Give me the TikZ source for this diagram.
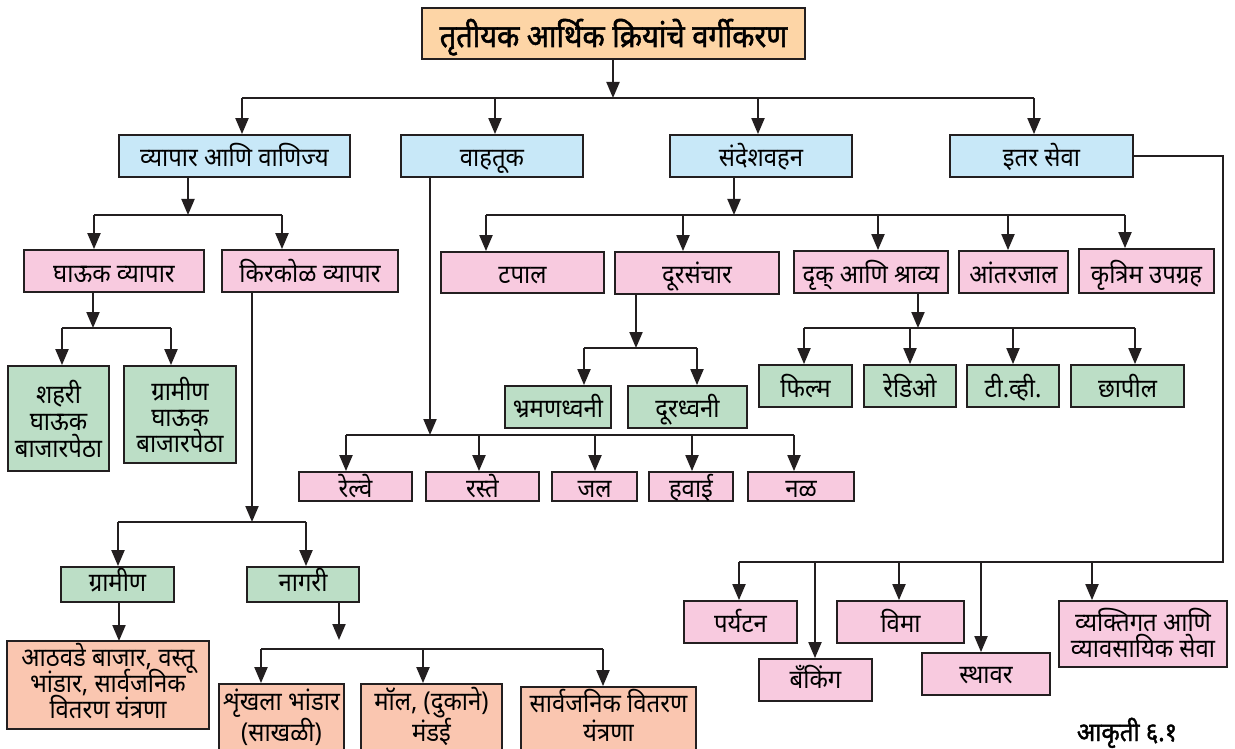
\documentclass[tikz,border=0pt]{standalone}
\usepackage{fontspec}
\setmainfont{Noto Sans}[Script=Devanagari,FakeStretch=0.92]
\newfontfamily\headfont{Noto Sans}[Script=Devanagari,FakeStretch=0.92,FakeBold=1.6]
\usetikzlibrary{arrows.meta,fit}
\definecolor{cblue}{HTML}{C8E8F8}
\definecolor{cpink}{HTML}{F8CADF}
\definecolor{cgreen}{HTML}{BCDEC6}
\definecolor{csalmon}{HTML}{FAC6B0}
\definecolor{cpeach}{HTML}{FDD5A6}
\definecolor{cline}{HTML}{231F20}
\tikzset{
  bx/.style={draw=cline, line width=1.8pt, inner sep=0pt,
    font=\fontsize{26}{28}\selectfont},
  bblue/.style={bx, fill=cblue},
  bpink/.style={bx, fill=cpink},
  bgreen/.style={bx, fill=cgreen},
  bsalmon/.style={bx, fill=csalmon},
  bpeach/.style={bx, fill=cpeach},
  ln/.style={draw=cline, line width=2pt},
  arr/.style={ln, -{Triangle[length=16pt,width=13pt]}},
}
% box given by its corners; its text lines are placed by their baselines
\newcommand\mybox[7]{\pgfmathsetmacro\cy{(#3+#5)/2}%
  \node[#6, fit={(#2,#3) (#4,#5)}] (#1) {#7};}
\newcommand\tx[2]{\pgfmathsetmacro\tmpoff{\cy-#1}%
  \raisebox{\tmpoff pt}[0pt][0pt]{\makebox[0pt]{#2}}}
\begin{document}
\begin{tikzpicture}[x=1pt,y=-1pt]
\useasboundingbox[fill=white] (0,0) rectangle (1235,749);
% title
\mybox{title}{422}{8}{805}{59}{bpeach}{\headfont\fontsize{31.5}{33}\selectfont\tx{47}{तृतीयक आर्थिक क्रियांचे वर्गीकरण}}
% level 1
\mybox{trade}{119}{135}{350}{177}{bblue}{\tx{167}{व्यापार आणि वाणिज्य}}
\mybox{transp}{401}{135}{583}{177}{bblue}{\tx{167}{वाहतूक}}
\mybox{comm}{670}{135}{852}{177}{bblue}{\tx{167}{संदेशवहन}}
\mybox{other}{950}{135}{1133}{177}{bblue}{\tx{167}{इतर सेवा}}
% trade subtree
\mybox{whole}{24}{250}{204}{292}{bpink}{\tx{282}{घाऊक व्यापार}}
\mybox{retail}{222}{250}{398}{292}{bpink}{\tx{282}{किरकोळ व्यापार}}
\mybox{urbanw}{8}{366}{109}{471}{bgreen}{\tx{403}{शहरी}\tx{430}{घाऊक}\tx{457}{बाजारपेठा}}
\mybox{ruralw}{124}{366}{236}{463}{bgreen}{\tx{400}{ग्रामीण}\tx{426}{घाऊक}\tx{452}{बाजारपेठा}}
\mybox{rural}{61}{567}{174}{602}{bgreen}{\tx{591}{ग्रामीण}}
\mybox{urban}{247}{567}{359}{602}{bgreen}{\tx{591}{नागरी}}
\mybox{weekly}{7}{641}{209}{729}{bsalmon}{\tx{666}{आठवडे बाजार, वस्तू}\tx{692}{भांडार, सार्वजनिक}\tx{718}{वितरण यंत्रणा}}
\mybox{chain}{219}{684}{344}{770}{bsalmon}{\tx{710}{शृंखला भांडार}\tx{741}{(साखळी)}}
\mybox{mall}{361}{684}{502}{770}{bsalmon}{\tx{710}{मॉल, (दुकाने)}\tx{741}{मंडई}}
\mybox{pds}{521}{687}{696}{770}{bsalmon}{\tx{712}{सार्वजनिक वितरण}\tx{741}{यंत्रणा}}
% transport
\mybox{rail}{299}{472}{412}{501}{bpink}{\tx{497}{रेल्वे}}
\mybox{road}{426}{472}{539}{501}{bpink}{\tx{497}{रस्ते}}
\mybox{water}{552}{472}{637}{501}{bpink}{\tx{497}{जल}}
\mybox{air}{649}{472}{733}{501}{bpink}{\tx{497}{हवाई}}
\mybox{pipe}{748}{472}{854}{501}{bpink}{\tx{497}{नळ}}
% communication
\mybox{post}{441}{252}{604}{293}{bpink}{\tx{283}{टपाल}}
\mybox{tele}{615}{252}{779}{294}{bpink}{\tx{283}{दूरसंचार}}
\mybox{av}{794}{251}{948}{293}{bpink}{\tx{283}{दृक् आणि श्राव्य}}
\mybox{net}{959}{251}{1068}{293}{bpink}{\tx{283}{आंतरजाल}}
\mybox{sat}{1079}{249}{1214}{293}{bpink}{\tx{283}{कृत्रिम उपग्रह}}
\mybox{mobile}{505}{386}{611}{428}{bgreen}{\tx{417}{भ्रमणध्वनी}}
\mybox{land}{628}{386}{747}{428}{bgreen}{\tx{417}{दूरध्वनी}}
\mybox{film}{759}{365}{852}{407}{bgreen}{\tx{397}{फिल्म}}
\mybox{radio}{864}{365}{956}{407}{bgreen}{\tx{397}{रेडिओ}}
\mybox{tv}{967}{365}{1059}{407}{bgreen}{\tx{397}{टी.व्ही.}}
\mybox{print}{1071}{365}{1184}{407}{bgreen}{\tx{397}{छापील}}
% other services
\mybox{tour}{684}{601}{797}{643}{bpink}{\tx{632}{पर्यटन}}
\mybox{bank}{759}{659}{872}{701}{bpink}{\tx{688}{बँकिंग}}
\mybox{ins}{837}{601}{964}{643}{bpink}{\tx{632}{विमा}}
\mybox{estate}{922}{653}{1050}{695}{bpink}{\tx{683}{स्थावर}}
\mybox{pers}{1059}{601}{1227}{667}{bpink}{\tx{631}{व्यक्तिगत आणि}\tx{657}{व्यावसायिक सेवा}}
\node[font=\headfont\fontsize{26}{28}\selectfont, anchor=base] (cap) at (1127,741) {आकृती ६.१};

% ---- connectors ----
\coordinate (t0) at (613,98);
\coordinate (b1a) at (242,98);
\coordinate (b1b) at (495,98);
\coordinate (b1c) at (758,98);
\coordinate (b1d) at (1034,98);
\draw[arr] (title.south -| t0) -- (t0);
\draw[ln] (b1a) -- (b1d);
\draw[arr] (b1a) -- (b1a |- trade.north);
\draw[arr] (b1b) -- (b1b |- transp.north);
\draw[arr] (b1c) -- (b1c |- comm.north);
\draw[arr] (b1d) -- (b1d |- other.north);
% trade
\coordinate (t1) at (188,215);
\coordinate (b2a) at (94,215);
\coordinate (b2b) at (282,215);
\draw[arr] (trade.south -| t1) -- (t1);
\draw[ln] (b2a) -- (b2b);
\draw[arr] (b2a) -- (b2a |- whole.north);
\draw[arr] (b2b) -- (b2b |- retail.north);
% wholesale
\coordinate (t2) at (93,328);
\coordinate (b3a) at (62,328);
\coordinate (b3b) at (171,328);
\draw[arr] (whole.south -| t2) -- (t2);
\draw[ln] (b3a) -- (b3b);
\draw[arr] (b3a) -- (b3a |- urbanw.north);
\draw[arr] (b3b) -- (b3b |- ruralw.north);
% retail
\coordinate (t3) at (252,522);
\coordinate (b4a) at (118,522);
\coordinate (b4b) at (306,522);
\draw[arr] (retail.south -| t3) -- (t3);
\draw[ln] (b4a) -- (b4b);
\draw[arr] (b4a) -- (b4a |- rural.north);
\draw[arr] (b4b) -- (b4b |- urban.north);
\coordinate (t4) at (119,641);
\draw[arr] (rural.south -| t4) -- (t4);
\coordinate (t5) at (339,640);
\coordinate (b5a) at (261,649);
\coordinate (b5b) at (423,649);
\coordinate (b5c) at (603,649);
\draw[arr] (urban.south -| t5) -- (t5);
\draw[ln] (b5a) -- (b5c);
\draw[arr] (b5a) -- (b5a |- chain.north);
\draw[arr] (b5b) -- (b5b |- mall.north);
\draw[arr] (b5c) -- (b5c |- pds.north);
% transport
\coordinate (t6) at (430,435);
\coordinate (b6a) at (346,435);
\coordinate (b6b) at (479,435);
\coordinate (b6c) at (595,435);
\coordinate (b6d) at (692,435);
\coordinate (b6e) at (794,435);
\draw[arr] (transp.south -| t6) -- (t6);
\draw[ln] (b6a) -- (b6e);
\draw[arr] (b6a) -- (b6a |- rail.north);
\draw[arr] (b6b) -- (b6b |- road.north);
\draw[arr] (b6c) -- (b6c |- water.north);
\draw[arr] (b6d) -- (b6d |- air.north);
\draw[arr] (b6e) -- (b6e |- pipe.north);
% communication
\coordinate (t7) at (734,215);
\coordinate (b7a) at (486,215);
\coordinate (b7b) at (683,215);
\coordinate (b7c) at (878,215);
\coordinate (b7d) at (1008,215);
\coordinate (b7e) at (1125,215);
\draw[arr] (comm.south -| t7) -- (t7);
\draw[ln] (b7a) -- (b7e);
\draw[arr] (b7a) -- (b7a |- post.north);
\draw[arr] (b7b) -- (b7b |- tele.north);
\draw[arr] (b7c) -- (b7c |- av.north);
\draw[arr] (b7d) -- (b7d |- net.north);
\draw[arr] (b7e) -- (b7e |- sat.north);
\coordinate (t8) at (636,348);
\coordinate (b8a) at (584,348);
\coordinate (b8b) at (697,348);
\draw[arr] (tele.south -| t8) -- (t8);
\draw[ln] (b8a) -- (b8b);
\draw[arr] (b8a) -- (b8a |- mobile.north);
\draw[arr] (b8b) -- (b8b |- land.north);
\coordinate (t9) at (918,328);
\coordinate (b9a) at (804,328);
\coordinate (b9b) at (910,328);
\coordinate (b9c) at (1013,328);
\coordinate (b9d) at (1135,328);
\draw[arr] (av.south -| t9) -- (t9);
\draw[ln] (b9a) -- (b9d);
\draw[arr] (b9a) -- (b9a |- film.north);
\draw[arr] (b9b) -- (b9b |- radio.north);
\draw[arr] (b9c) -- (b9c |- tv.north);
\draw[arr] (b9d) -- (b9d |- print.north);
% other services
\coordinate (oc) at (1223,562);
\coordinate (bAa) at (739,562);
\coordinate (bAb) at (815,562);
\coordinate (bAc) at (899,562);
\coordinate (bAd) at (981,562);
\coordinate (bAe) at (1092,562);
\draw[ln] (other.east) -| (oc) -- (bAa);
\draw[arr] (bAa) -- (bAa |- tour.north);
\draw[arr] (bAb) -- (bAb |- bank.north);
\draw[arr] (bAc) -- (bAc |- ins.north);
\draw[arr] (bAd) -- (bAd |- estate.north);
\draw[arr] (bAe) -- (bAe |- pers.north);
\end{tikzpicture}
\end{document}
